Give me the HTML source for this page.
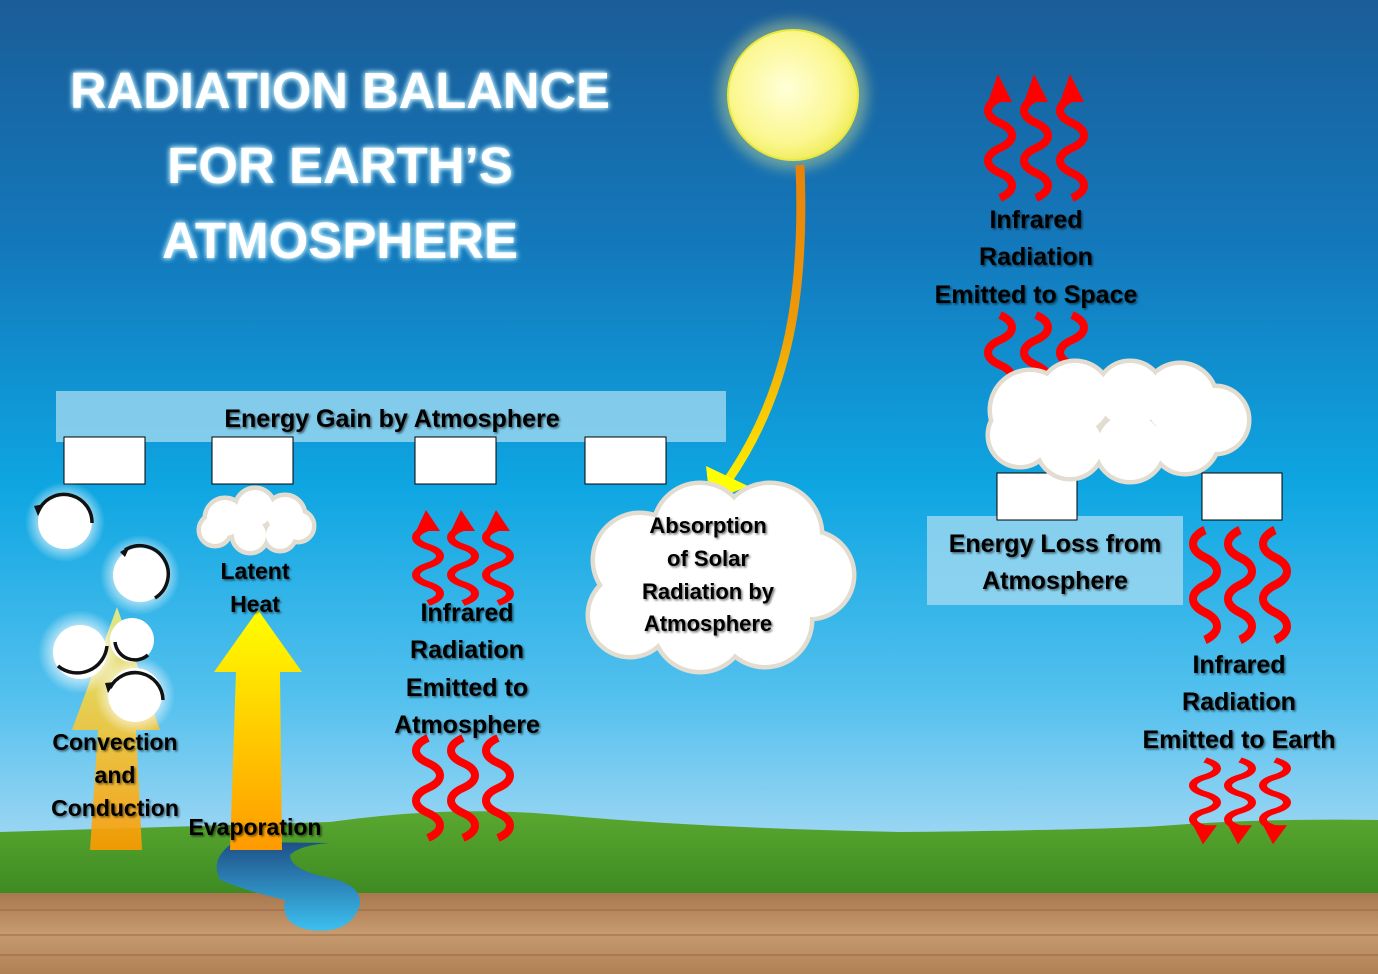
<!DOCTYPE html>
<html><head><meta charset="utf-8"><style>
html,body{margin:0;padding:0;width:1378px;height:974px;overflow:hidden}
svg{display:block}
.t{font-family:"Liberation Sans",sans-serif;font-weight:bold;fill:#000;text-anchor:middle}
</style></head><body>
<svg width="1378" height="974" viewBox="0 0 1378 974" xmlns="http://www.w3.org/2000/svg">
<defs>
<linearGradient id="sky" x1="0" y1="0" x2="0" y2="1">
<stop offset="0" stop-color="#1a5d98"/><stop offset="0.25" stop-color="#1378bb"/><stop offset="0.5" stop-color="#0ea6e2"/><stop offset="0.72" stop-color="#55c1ee"/><stop offset="0.88" stop-color="#a6d9f4"/></linearGradient>
<linearGradient id="soil" x1="0" y1="0" x2="0" y2="1"><stop offset="0" stop-color="#a8774e"/><stop offset="0.5" stop-color="#c79a70"/><stop offset="1" stop-color="#b08055"/></linearGradient>
<linearGradient id="grass" x1="0" y1="0" x2="0" y2="1"><stop offset="0" stop-color="#5aa830"/><stop offset="1" stop-color="#3d8a22"/></linearGradient>
<radialGradient id="sun" cx="0.45" cy="0.45" r="0.6"><stop offset="0" stop-color="#ffffd8"/><stop offset="0.7" stop-color="#fbf790"/><stop offset="1" stop-color="#eeea50"/></radialGradient>
<linearGradient id="beam" x1="0" y1="0" x2="0" y2="1"><stop offset="0" stop-color="#e8820a"/><stop offset="0.5" stop-color="#ee9a08"/><stop offset="1" stop-color="#ffee00"/></linearGradient>
<linearGradient id="arr" x1="0" y1="0" x2="0" y2="1"><stop offset="0" stop-color="#ffff00"/><stop offset="1" stop-color="#ff9a00"/></linearGradient>
<linearGradient id="arr2" x1="0" y1="0" x2="0" y2="1"><stop offset="0" stop-color="#f0ee80"/><stop offset="0.4" stop-color="#f5d040"/><stop offset="1" stop-color="#ff9a00"/></linearGradient>
<linearGradient id="water" x1="0" y1="0" x2="0" y2="1"><stop offset="0" stop-color="#1e4f86"/><stop offset="1" stop-color="#3cc0f0"/></linearGradient>
<radialGradient id="glow"><stop offset="0.5" stop-color="#fff" stop-opacity="0.8"/><stop offset="1" stop-color="#fff" stop-opacity="0"/></radialGradient>
<filter id="ts"><feDropShadow dx="1.5" dy="1.5" stdDeviation="1" flood-color="#000" flood-opacity="0.55"/></filter>
<filter id="tg"><feGaussianBlur in="SourceAlpha" stdDeviation="3" result="b"/><feFlood flood-color="#bff0ff"/><feComposite in2="b" operator="in" result="g"/><feMerge><feMergeNode in="g"/><feMergeNode in="g"/><feMergeNode in="SourceGraphic"/></feMerge></filter>
<filter id="sg"><feGaussianBlur stdDeviation="6"/></filter>
<path id="w4" d="M0 0 c16 -7 16 -18 0 -25 c-16 -7 -16 -18 0 -25 c16 -7 16 -18 0 -25 c-16 -7 -16 -18 0 -25" fill="none" stroke="#f00" stroke-width="8"/>
<path id="w3" d="M0 0 c16 -7 16 -18 0 -25 c-16 -7 -16 -18 0 -25 c16 -7 16 -18 0 -25" fill="none" stroke="#f00" stroke-width="8"/>
<g id="wa"><use href="#w4"/><polygon points="-12,-96 12,-96 -2,-124" fill="#f00"/></g>
</defs>
<rect width="1378" height="974" fill="url(#sky)"/>
<path d="M0 832 Q200 826 330 822 Q450 805 560 815 Q700 828 900 832 Q1100 830 1160 826 Q1260 818 1378 820 L1378 895 L0 895Z" fill="url(#grass)"/>
<rect x="0" y="893" width="1378" height="81" fill="url(#soil)"/>
<path d="M0 910 H1378 M0 935 H1378 M0 955 H1378" stroke="#8a5a34" stroke-width="2" opacity="0.35"/>
<path d="M230 845 Q210 860 220 880 Q250 892 285 900 Q280 925 310 930 Q350 935 360 905 Q362 885 330 878 Q290 870 290 855 Q300 845 330 843 L240 842Z" fill="url(#water)"/>
<g font-family="Liberation Sans,sans-serif" font-weight="bold" font-size="51" fill="#fff" text-anchor="middle" filter="url(#tg)">
<text x="340" y="108" textLength="540" lengthAdjust="spacingAndGlyphs">RADIATION BALANCE</text>
<text x="340" y="183">FOR EARTH’S</text>
<text x="340" y="258">ATMOSPHERE</text></g>
<circle cx="793" cy="95" r="75" fill="#ffff90" opacity="0.35" filter="url(#sg)"/>
<circle cx="793" cy="95" r="65" fill="url(#sun)" stroke="#e8e840" stroke-width="2"/>
<path d="M800 165 C805 290 790 390 728 480" fill="none" stroke="url(#beam)" stroke-width="9"/>
<polygon points="710,502 706,466 748,486" fill="#ffff00"/>
<rect x="56" y="391" width="670" height="51" fill="#a9dcf2" opacity="0.75"/>
<text class="t" x="392" y="427" font-size="25" filter="url(#ts)">Energy Gain by Atmosphere</text>
<rect x="927" y="516" width="256" height="89" fill="#a9dcf2" opacity="0.75"/>
<text class="t" x="1055" y="552" font-size="25" filter="url(#ts)">Energy Loss from</text>
<text class="t" x="1055" y="589" font-size="25" filter="url(#ts)">Atmosphere</text>
<g fill="#fff" stroke="#000" stroke-width="1">
<rect x="64" y="437" width="81" height="47"/><rect x="212" y="437" width="81" height="47"/>
<rect x="415" y="437" width="81" height="47"/><rect x="585" y="437" width="81" height="47"/>
<rect x="997" y="473" width="80" height="47"/><rect x="1202" y="473" width="80" height="47"/></g>
<use href="#wa" x="1000" y="198"/><use href="#wa" x="1036" y="198"/><use href="#wa" x="1072" y="198"/>
<use href="#w3" x="1000" y="390"/><use href="#w3" x="1036" y="390"/><use href="#w3" x="1072" y="390"/>
<g transform="translate(428,603) scale(1,0.75)"><use href="#wa"/></g>
<g transform="translate(463,603) scale(1,0.75)"><use href="#wa"/></g>
<g transform="translate(498,603) scale(1,0.75)"><use href="#wa"/></g>
<use href="#w4" x="428" y="838"/><use href="#w4" x="463" y="838"/><use href="#w4" x="498" y="838"/>
<g transform="translate(1205,640) scale(1,1.1)"><use href="#w4"/></g>
<g transform="translate(1240,640) scale(1,1.1)"><use href="#w4"/></g>
<g transform="translate(1275,640) scale(1,1.1)"><use href="#w4"/></g>
<g transform="translate(1205,760) scale(1,-0.68)"><use href="#wa"/></g>
<g transform="translate(1240,760) scale(1,-0.68)"><use href="#wa"/></g>
<g transform="translate(1275,760) scale(1,-0.68)"><use href="#wa"/></g>
<g stroke="#e2ddd0" stroke-width="9" fill="#fff">
<circle cx="1030" cy="410" r="38"/><circle cx="1075" cy="398" r="35"/><circle cx="1130" cy="395" r="32"/><circle cx="1180" cy="400" r="35"/><circle cx="1215" cy="420" r="32"/><circle cx="1020" cy="435" r="30"/><circle cx="1070" cy="445" r="32"/><circle cx="1130" cy="447" r="33"/><circle cx="1185" cy="440" r="32"/>
<circle cx="640" cy="560" r="45"/><circle cx="700" cy="530" r="45"/><circle cx="770" cy="535" r="50"/><circle cx="810" cy="575" r="42"/><circle cx="630" cy="615" r="40"/><circle cx="700" cy="625" r="45"/><circle cx="765" cy="620" r="45"/><circle cx="710" cy="580" r="60"/>
<circle cx="225" cy="518" r="18"/><circle cx="255" cy="508" r="18"/><circle cx="285" cy="515" r="18"/><circle cx="298" cy="526" r="14"/><circle cx="215" cy="530" r="14"/><circle cx="250" cy="535" r="16"/><circle cx="280" cy="535" r="14"/></g>
<g fill="#fff">
<circle cx="1030" cy="410" r="38"/><circle cx="1075" cy="398" r="35"/><circle cx="1130" cy="395" r="32"/><circle cx="1180" cy="400" r="35"/><circle cx="1215" cy="420" r="32"/><circle cx="1020" cy="435" r="30"/><circle cx="1070" cy="445" r="32"/><circle cx="1130" cy="447" r="33"/><circle cx="1185" cy="440" r="32"/>
<circle cx="640" cy="560" r="45"/><circle cx="700" cy="530" r="45"/><circle cx="770" cy="535" r="50"/><circle cx="810" cy="575" r="42"/><circle cx="630" cy="615" r="40"/><circle cx="700" cy="625" r="45"/><circle cx="765" cy="620" r="45"/><circle cx="710" cy="580" r="60"/>
<circle cx="225" cy="518" r="18"/><circle cx="255" cy="508" r="18"/><circle cx="285" cy="515" r="18"/><circle cx="298" cy="526" r="14"/><circle cx="215" cy="530" r="14"/><circle cx="250" cy="535" r="16"/><circle cx="280" cy="535" r="14"/></g>
<polygon points="90,850 142,850 136,730 160,730 117,607 72,730 98,730" fill="url(#arr2)" opacity="0.9"/>
<polygon points="230,850 282,850 280,672 302,672 258,610 214,672 236,672" fill="url(#arr)"/>
<g>
<circle cx="65" cy="522" r="40" fill="url(#glow)"/><circle cx="140" cy="575" r="40" fill="url(#glow)"/><circle cx="80" cy="652" r="42" fill="url(#glow)"/><circle cx="135" cy="695" r="40" fill="url(#glow)"/>
<g fill="#fff"><circle cx="65" cy="522" r="27"/><circle cx="140" cy="575" r="27"/><circle cx="80" cy="652" r="27"/><circle cx="132" cy="640" r="22"/><circle cx="135" cy="695" r="27"/></g>
<g fill="none" stroke="#111" stroke-width="3.5">
<path d="M92 523 A28 28 0 0 0 40 508"/><path d="M125 550 A28 28 0 0 1 155 598"/><path d="M58 666 A30 30 0 0 0 107 646"/><path d="M115 642 A20 20 0 0 0 148 655"/><path d="M110 688 A28 28 0 0 1 163 700"/></g>
<g fill="#111"><polygon points="34,506 44,504 38,516"/><polygon points="120,552 130,546 125,557"/><polygon points="105,683 115,682 108,693"/></g>
</g>
<g class="t" font-size="23" filter="url(#ts)">
<text x="255" y="579">Latent</text><text x="255" y="612">Heat</text>
<text x="115" y="750">Convection</text><text x="115" y="783">and</text><text x="115" y="816">Conduction</text>
<text x="255" y="835">Evaporation</text>
<text x="708" y="533" font-size="22">Absorption</text><text x="708" y="566" font-size="22">of Solar</text><text x="708" y="599" font-size="22">Radiation by</text><text x="708" y="631" font-size="22">Atmosphere</text>
</g>
<g class="t" font-size="25" filter="url(#ts)">
<text x="467" y="621">Infrared</text><text x="467" y="658">Radiation</text><text x="467" y="696">Emitted to</text><text x="467" y="733">Atmosphere</text>
<text x="1036" y="228">Infrared</text><text x="1036" y="265">Radiation</text><text x="1036" y="303">Emitted to Space</text>
<text x="1239" y="673">Infrared</text><text x="1239" y="710">Radiation</text><text x="1239" y="748">Emitted to Earth</text>
</g>
</svg>
</body></html>
